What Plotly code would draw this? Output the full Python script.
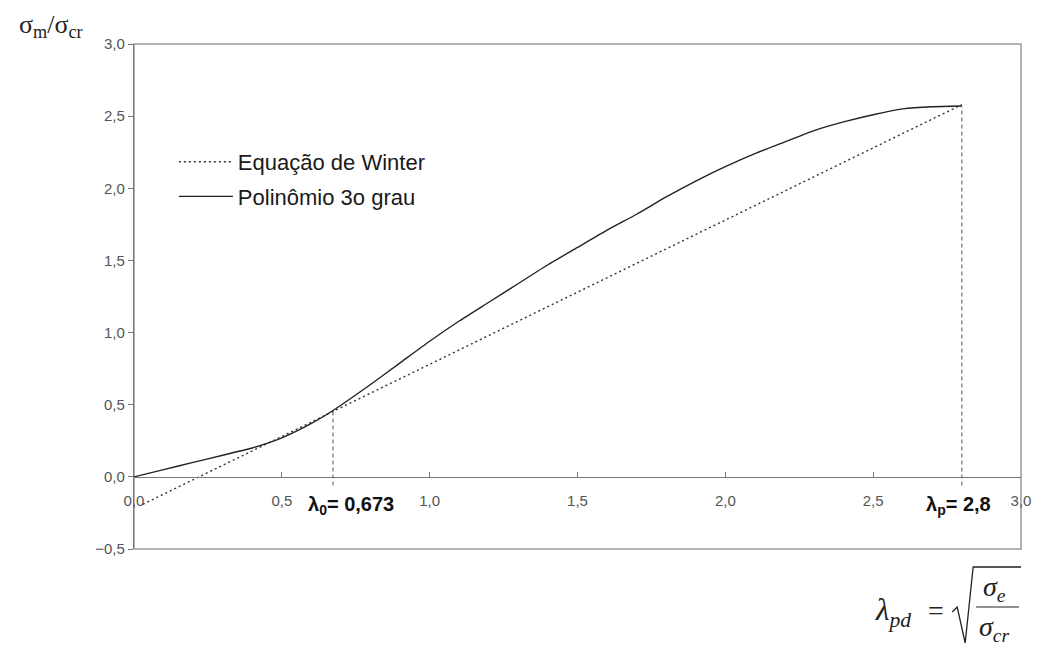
import plotly.graph_objects as go

# ---- data ----
lam_poly = [0.0, 0.1, 0.2, 0.3, 0.4, 0.5, 0.6, 0.673, 0.8, 0.9, 1.0, 1.1, 1.2, 1.3,
            1.4, 1.5, 1.6, 1.7, 1.8, 1.9, 2.0, 2.1, 2.2, 2.3, 2.4, 2.5, 2.6, 2.7, 2.8]
val_poly = [0.0, 0.05, 0.10, 0.15, 0.20, 0.27, 0.37, 0.46, 0.64, 0.79, 0.94, 1.08, 1.21, 1.34,
            1.47, 1.59, 1.71, 1.82, 1.94, 2.05, 2.15, 2.24, 2.32, 2.40, 2.46, 2.51, 2.55, 2.565, 2.57]

lam_winter = [0.03, 1.4, 2.8]
val_winter = [-0.19, 1.18, 2.58]

lam0 = 0.673
lam0_val = 0.46
lamp = 2.8
lamp_val = 2.57
vline_bottom = -0.06

x_ticks = [0.0, 0.5, 1.0, 1.5, 2.0, 2.5, 3.0]
y_ticks = [-0.5, 0.0, 0.5, 1.0, 1.5, 2.0, 2.5, 3.0]

SANS = "Liberation Sans, Arial, sans-serif"
SERIF = "Liberation Serif, Times New Roman, serif"

fig = go.Figure()

fig.add_trace(go.Scatter(
    x=lam_winter, y=val_winter, mode="lines", name="Equação de Winter",
    line=dict(color="#333333", width=1.4, dash="2px,3px"), legendgroup="a"))
fig.add_trace(go.Scatter(
    x=lam_poly, y=val_poly, mode="lines", name="Polinômio 3o grau",
    line=dict(color="#222222", width=1.4, shape="spline", smoothing=0.5), legendgroup="b"))

# vertical dashed marker lines
fig.add_trace(go.Scatter(x=[lam0, lam0], y=[vline_bottom, lam0_val], mode="lines",
                         line=dict(color="#555555", width=1, dash="4px,3px"), showlegend=False))
fig.add_trace(go.Scatter(x=[lamp, lamp], y=[vline_bottom, lamp_val], mode="lines",
                         line=dict(color="#555555", width=1, dash="4px,3px"), showlegend=False))

# page has an ~8px body margin; figure sized to fit the window
OFF = 8
L, R, T, B = 126, 19, 36, 103
W, H = 1035, 644
pw, ph = W - L - R, H - T - B
y0_frac = (0 - (-0.5)) / 3.5


def px(X):
    return (X - OFF - L) / pw


def py(Y):
    return (H - B - (Y - OFF)) / ph


fig.update_layout(
    width=W, height=H,
    margin=dict(l=L, r=R, t=T, b=B),
    paper_bgcolor="white", plot_bgcolor="white",
    separators=",.",
    font=dict(family=SANS, color="#555555", size=15),
    legend=dict(x=px(174), y=py(141), xanchor="left", yanchor="top",
                font=dict(family=SANS, size=22, color="#1a1a1a"),
                bgcolor="rgba(0,0,0,0)", tracegroupgap=3, itemwidth=54),
    xaxis=dict(range=[0, 3], tickvals=x_ticks, tickformat=".1f", showgrid=False, zeroline=False,
               showline=True, linecolor="#777777", linewidth=1.2, ticks="inside", ticklen=5,
               tickcolor="#777777", anchor="free", position=y0_frac, ticklabelstandoff=10,
               tickfont=dict(size=15, color="#555555")),
    yaxis=dict(range=[-0.5, 3.0], tickvals=y_ticks, tickformat=".1f", showgrid=False, zeroline=False,
               showline=True, linecolor="#777777", linewidth=1.2, ticks="outside", ticklen=5,
               tickcolor="#777777", tickfont=dict(size=15, color="#555555")),
)

# frame
fig.add_shape(type="rect", xref="paper", yref="paper", x0=0, y0=0, x1=1, y1=1,
              line=dict(color="#999999", width=1.5), layer="below")


def note(X, Y, text, size, family=SERIF, color="#222222"):
    fig.add_annotation(xref="paper", yref="paper", x=px(X), y=py(Y), showarrow=False,
                       xanchor="center", yanchor="middle", text=text,
                       font=dict(family=family, size=size, color=color))


# axis title (y) at top-left
note(51, 26, "σ<sub>m</sub>/σ<sub>cr</sub>", 26)

# lambda labels
fig.add_annotation(x=0.735, y=-0.2, showarrow=False, text="<b>λ<sub>0</sub>= 0,673</b>",
                   xanchor="center", yanchor="middle",
                   font=dict(family=SANS, size=20, color="#111111"))
fig.add_annotation(x=2.79, y=-0.2, showarrow=False, text="<b>λ<sub>p</sub>= 2,8</b>",
                   xanchor="center", yanchor="middle",
                   font=dict(family=SANS, size=20, color="#111111"))

# x-axis formula at bottom-right
note(896, 612, "<i>λ<sub>pd</sub></i>", 31)
note(939, 610, "=", 28)
rad = "M {},{} L {},{} L {},{} L {},{} L {},{}".format(
    px(955), py(612), px(960), py(607), px(968), py(643), px(976), py(567), px(1024), py(567))
fig.add_shape(type="path", xref="paper", yref="paper", path=rad,
              line=dict(color="#222222", width=1.3))
fig.add_shape(type="line", xref="paper", yref="paper", x0=px(979), x1=px(1022), y0=py(607), y1=py(607),
              line=dict(color="#222222", width=1.2))
note(997, 588, "<i>σ<sub>e</sub></i>", 28)
note(997, 628, "<i>σ<sub>cr</sub></i>", 28)

fig.write_html("out.html")
